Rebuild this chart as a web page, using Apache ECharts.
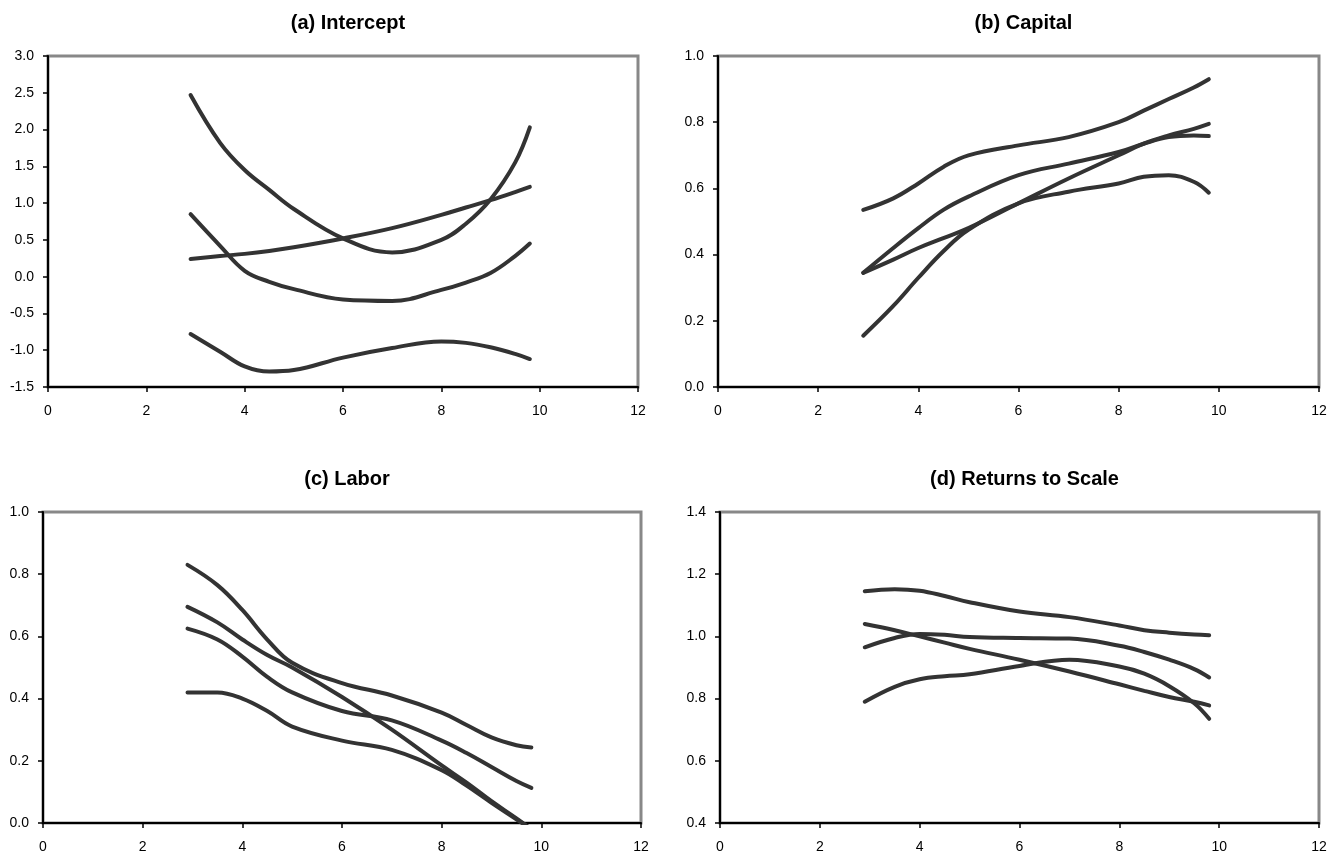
<!DOCTYPE html>
<html>
<head>
<meta charset="utf-8">
<script src="https://cdn.jsdelivr.net/npm/echarts@6/dist/echarts.min.js"></script>
<style>
  html, body { margin: 0; padding: 0; background: #fff; }
  #chart { width: 1333px; height: 856px; }
</style>
</head>
<body>
<div id="chart"></div>
<script>
var xs = [2.9, 3.5, 4, 4.5, 5, 6, 7, 8, 8.5, 9, 9.5, 9.8];
var xTicks = [0, 2, 4, 6, 8, 10, 12];

// (a) Intercept
var interceptS1 = [2.47, 1.82, 1.45, 1.18, 0.92, 0.52, 0.33, 0.50, 0.72, 1.05, 1.55, 2.03];
var interceptS2 = [0.24, 0.28, 0.31, 0.35, 0.40, 0.52, 0.66, 0.84, 0.94, 1.04, 1.15, 1.22];
var interceptS3 = [0.85, 0.42, 0.08, -0.07, -0.17, -0.31, -0.33, -0.18, -0.08, 0.05, 0.28, 0.45];
var interceptS4 = [-0.78, -1.02, -1.22, -1.29, -1.27, -1.10, -0.97, -0.88, -0.90, -0.96, -1.05, -1.12];

// (b) Capital
var capitalS1 = [0.535, 0.57, 0.615, 0.665, 0.70, 0.73, 0.755, 0.80, 0.835, 0.87, 0.905, 0.93];
var capitalS2 = [0.345, 0.42, 0.48, 0.535, 0.575, 0.64, 0.675, 0.71, 0.735, 0.755, 0.76, 0.758];
var capitalS3 = [0.345, 0.385, 0.42, 0.45, 0.48, 0.555, 0.63, 0.70, 0.735, 0.76, 0.78, 0.795];
var capitalS4 = [0.155, 0.245, 0.33, 0.41, 0.475, 0.555, 0.59, 0.615, 0.635, 0.64, 0.62, 0.587];

// (c) Labor
var laborS1 = [0.83, 0.765, 0.685, 0.59, 0.515, 0.45, 0.41, 0.355, 0.315, 0.275, 0.25, 0.243];
var laborS2 = [0.695, 0.645, 0.59, 0.54, 0.50, 0.405, 0.30, 0.185, 0.13, 0.07, 0.015, -0.02];
var laborS3 = [0.625, 0.59, 0.535, 0.47, 0.42, 0.36, 0.33, 0.265, 0.225, 0.18, 0.135, 0.113];
var laborS4 = [0.42, 0.42, 0.40, 0.36, 0.31, 0.265, 0.235, 0.17, 0.12, 0.065, 0.012, -0.02];

// (d) Returns to Scale
var rtsS1 = [1.145, 1.152, 1.147, 1.13, 1.11, 1.08, 1.062, 1.035, 1.02, 1.012, 1.006, 1.004];
var rtsS2 = [0.965, 0.995, 1.008, 1.005, 0.998, 0.995, 0.993, 0.97, 0.95, 0.925, 0.895, 0.868];
var rtsS3 = [1.04, 1.02, 1.0, 0.98, 0.96, 0.925, 0.887, 0.846, 0.825, 0.805, 0.79, 0.778];
var rtsS4 = [0.79, 0.838, 0.862, 0.872, 0.878, 0.905, 0.925, 0.903, 0.88, 0.84, 0.785, 0.735];

var panels = [
  { title: '(a) Intercept', min: -1.5, max: 3.0, step: 0.5, lines: [interceptS1, interceptS2, interceptS3, interceptS4] },
  { title: '(b) Capital', min: 0, max: 1.0, step: 0.2, lines: [capitalS1, capitalS2, capitalS3, capitalS4] },
  { title: '(c) Labor', min: 0, max: 1.0, step: 0.2, lines: [laborS1, laborS2, laborS3, laborS4] },
  { title: '(d) Returns to Scale', min: 0.4, max: 1.4, step: 0.2, lines: [rtsS1, rtsS2, rtsS3, rtsS4] }
];

var boxes = [
  { left: 48, top: 56, width: 590, height: 331 },
  { left: 718, top: 56, width: 601, height: 331 },
  { left: 43, top: 512, width: 598, height: 311 },
  { left: 720, top: 512, width: 599, height: 311 }
];

var font = 'Liberation Sans, Arial, sans-serif';

var chart = echarts.init(document.getElementById('chart'), null, { renderer: 'canvas' });

var option = {
  animation: false,
  backgroundColor: '#fff',
  title: [],
  grid: [],
  xAxis: [],
  yAxis: [],
  series: []
};

panels.forEach(function (p, i) {
  var b = boxes[i];
  option.title.push({
    text: p.title,
    left: b.left + b.width / 2,
    top: b.top - 48,
    textAlign: 'center',
    textStyle: { fontFamily: font, fontSize: 20, fontWeight: 'bold', color: '#000' }
  });
  option.grid.push({
    left: b.left, top: b.top, width: b.width, height: b.height,
    show: true, borderColor: '#888', borderWidth: 3, backgroundColor: 'transparent'
  });
  option.xAxis.push({
    type: 'value', gridIndex: i,
    min: xTicks[0], max: xTicks[xTicks.length - 1], interval: 2,
    axisLine: { show: true, onZero: false, lineStyle: { color: '#000', width: 2 } },
    axisTick: { show: true, length: 5, lineStyle: { color: '#000', width: 1.5 } },
    axisLabel: { fontFamily: font, fontSize: 14, color: '#000', margin: 17 },
    splitLine: { show: false }
  });
  option.yAxis.push({
    type: 'value', gridIndex: i,
    min: p.min, max: p.max, interval: p.step,
    axisLine: { show: true, onZero: false, lineStyle: { color: '#000', width: 2 } },
    axisTick: { show: true, length: 5, lineStyle: { color: '#000', width: 1.5 } },
    axisLabel: {
      fontFamily: font, fontSize: 14, color: '#000', margin: 14,
      formatter: function (v) { return v.toFixed(1); }
    },
    splitLine: { show: false }
  });
  p.lines.forEach(function (vals) {
    option.series.push({
      type: 'line',
      xAxisIndex: i, yAxisIndex: i,
      data: xs.map(function (x, k) { return [x, vals[k]]; }),
      smooth: 0.4,
      symbol: 'none',
      clip: true,
      lineStyle: { color: '#333', width: 4, cap: 'round' }
    });
  });
});

chart.setOption(option);
</script>
</body>
</html>
